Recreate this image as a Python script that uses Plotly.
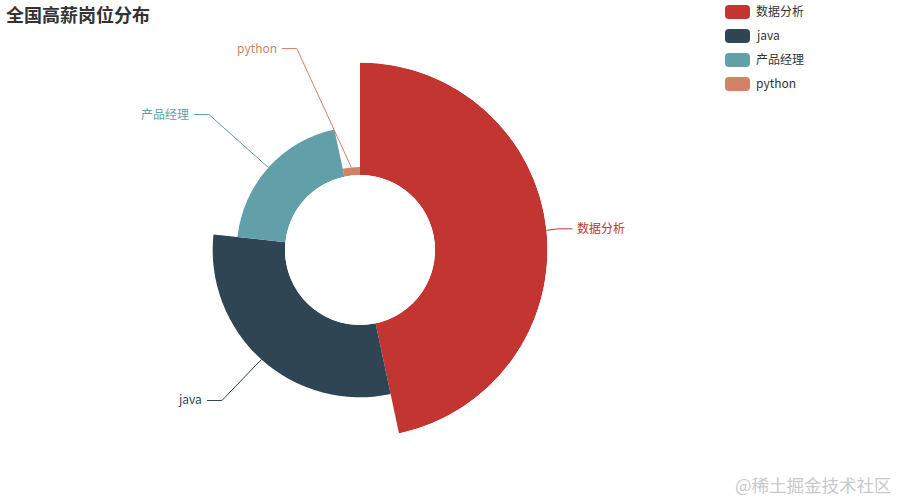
import math
import plotly.graph_objects as go

# ---- data ----
categories = ["数据分析", "java", "产品经理", "python"]
values = [14, 9, 6, 1]
colors = ["#c23531", "#2f4554", "#61a0a8", "#d48265"]
title_text = "全国高薪岗位分布"
watermark_text = "@稀土掘金技术社区"

# ---- layout constants (pixels) ----
W, H = 900, 500
CX, CY = 360, 250
R_OUT, R_IN = 187.5, 75.0
LEN1, LEN2 = 15, 15
TXT_DY = -1.5
FONT = "Microsoft YaHei, Noto Sans CJK SC, sans-serif"

total = sum(values)
vmax = max(values)
spans, mids = [], []
acc = 0.0
for v in values:
    s = v / total * 360.0
    spans.append(s)
    mids.append(acc + s / 2)
    acc += s


def px(x):
    return x / W


def py(y):
    return 1 - y / H


fig = go.Figure()
for cat, v, s, m, c in zip(categories, values, spans, mids, colors):
    fig.add_trace(go.Barpolar(
        r=[v], theta=[m], width=[s], name=cat,
        marker=dict(color=c, line=dict(width=0)),
        hoverinfo="skip", showlegend=False,
    ))

shapes = []
annotations = []

# label lines & labels (ECharts-like outside labels)
for cat, v, m, c in zip(categories, values, mids, colors):
    a = math.radians(m)
    dx, dy = math.sin(a), -math.cos(a)
    r_slice = R_IN + (R_OUT - R_IN) * v / vmax
    x1, y1 = CX + r_slice * dx, CY + r_slice * dy
    ly = CY + (R_OUT + LEN1) * dy
    side = 1 if dx >= 0 else -1
    rr = R_OUT + LEN1 + LEN2
    dY = abs(ly - CY)
    dX = math.sqrt(max(rr * rr - dY * dY, 0))
    tx = CX + side * dX
    x3 = tx - side * 4
    x2 = x3 - side * LEN2
    shapes.append(dict(
        type="path", xref="paper", yref="paper",
        path=f"M {px(x1)} {py(y1)} L {px(x2)} {py(ly)} L {px(x3)} {py(ly)}",
        line=dict(color=c, width=1),
    ))
    annotations.append(dict(
        text=cat, xref="paper", yref="paper", x=px(tx), y=py(ly + TXT_DY),
        xanchor="left" if side > 0 else "right", yanchor="middle",
        showarrow=False, font=dict(size=12, color=c, family=FONT), borderpad=0,
    ))

# legend (manual, rounded swatches)
LX, LY0, LW, LH, LGAP = 725, 5, 25, 14, 10
rad = 4
for i, (cat, c) in enumerate(zip(categories, colors)):
    top = LY0 + i * (LH + LGAP)
    x0, x1r = LX, LX + LW
    y0, y1b = top, top + LH
    p = (f"M {px(x0 + rad)} {py(y0)} L {px(x1r - rad)} {py(y0)} "
         f"Q {px(x1r)} {py(y0)} {px(x1r)} {py(y0 + rad)} "
         f"L {px(x1r)} {py(y1b - rad)} Q {px(x1r)} {py(y1b)} {px(x1r - rad)} {py(y1b)} "
         f"L {px(x0 + rad)} {py(y1b)} Q {px(x0)} {py(y1b)} {px(x0)} {py(y1b - rad)} "
         f"L {px(x0)} {py(y0 + rad)} Q {px(x0)} {py(y0)} {px(x0 + rad)} {py(y0)} Z")
    shapes.append(dict(type="path", xref="paper", yref="paper", path=p,
                       fillcolor=c, line=dict(width=0)))
    annotations.append(dict(
        text=cat, xref="paper", yref="paper", x=px(LX + LW + 5),
        y=py(top + LH / 2 + TXT_DY),
        xanchor="left", yanchor="middle", showarrow=False, borderpad=0,
        font=dict(size=12, color="#333", family=FONT),
    ))

# title
annotations.append(dict(
    text=f"<b>{title_text}</b>", xref="paper", yref="paper", x=px(5), y=py(14),
    xanchor="left", yanchor="middle", showarrow=False, borderpad=0,
    font=dict(size=18, color="#333", family=FONT),
))

# watermark
annotations.append(dict(
    text=watermark_text, xref="paper", yref="paper", x=px(893), y=py(484),
    xanchor="right", yanchor="middle", showarrow=False, borderpad=0,
    font=dict(size=17.5, color="#c9c9c9", family=FONT),
))

fig.update_layout(
    width=W, height=H,
    margin=dict(l=0, r=0, t=0, b=0),
    paper_bgcolor="white", plot_bgcolor="white",
    polar=dict(
        domain=dict(x=[px(CX - R_OUT), px(CX + R_OUT)],
                    y=[py(CY + R_OUT), py(CY - R_OUT)]),
        hole=R_IN / R_OUT,
        bgcolor="rgba(0,0,0,0)",
        bargap=0,
        radialaxis=dict(visible=False, range=[0, vmax]),
        angularaxis=dict(visible=False, direction="clockwise", rotation=90),
    ),
    shapes=shapes,
    annotations=annotations,
    showlegend=False,
)

fig.write_html(
    "out.html",
    config={"displayModeBar": False},
    post_script="document.body.style.margin='0';document.body.style.overflow='hidden';",
)
